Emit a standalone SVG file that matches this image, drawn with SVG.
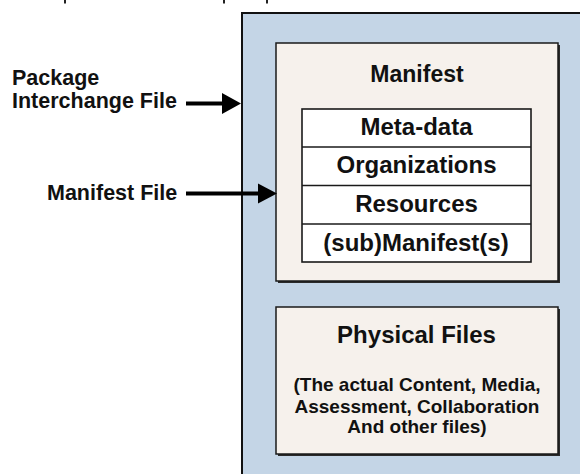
<svg xmlns="http://www.w3.org/2000/svg" width="580" height="474" viewBox="0 0 580 474">
  <defs>
    <style>
      .lbl { font-family: "Liberation Sans", Arial, sans-serif; font-weight: bold; fill: #111; }
      .mid { text-anchor: middle; }
      .panel { fill: #f6f1ec; stroke: #1a1a1a; stroke-width: 1.5; }
      .shade { fill: none; stroke: #2a2a2a; stroke-width: 2; }
      .cell { fill: #ffffff; stroke: #1a1a1a; stroke-width: 1.6; }
      .wire { stroke: #000; stroke-width: 4; fill: none; }
      .head { fill: #000; }
    </style>
  </defs>

  <rect width="580" height="474" fill="#ffffff"/>

  <!-- stray marks along the top edge -->
  <g id="top-marks" fill="#222">
    <rect x="64" y="0" width="2" height="3.5"/>
    <rect x="223" y="0" width="2" height="3.5"/>
    <rect x="266" y="0" width="2" height="3.5"/>
  </g>

  <!-- package interchange file container -->
  <g id="package">
    <rect x="242" y="13" width="350" height="475" fill="#c4d5e6" stroke="#111" stroke-width="2"/>
  </g>

  <!-- manifest panel -->
  <g id="manifest">
    <polyline class="shade" points="559,45 559,282 278,282"/>
    <rect class="panel" x="276" y="43" width="282" height="238"/>
    <text class="lbl mid" x="417" y="82" font-size="23">Manifest</text>
  </g>

  <g id="manifest-table">
    <rect class="cell" x="302" y="109" width="229" height="153"/>
    <line class="cell" x1="302" y1="147" x2="531" y2="147"/>
    <line class="cell" x1="302" y1="185.5" x2="531" y2="185.5"/>
    <line class="cell" x1="302" y1="224" x2="531" y2="224"/>
    <text class="lbl mid" x="416.5" y="135" font-size="24">Meta-data</text>
    <text class="lbl mid" x="416.5" y="173" font-size="24">Organizations</text>
    <text class="lbl mid" x="416.5" y="212" font-size="24">Resources</text>
    <text class="lbl mid" x="416" y="251" font-size="24">(sub)Manifest(s)</text>
  </g>

  <!-- physical files panel -->
  <g id="physical-files">
    <polyline class="shade" points="559,309 559,455 278,455"/>
    <rect class="panel" x="276" y="307" width="282" height="147"/>
    <text class="lbl mid" x="416.5" y="343" font-size="24">Physical Files</text>
    <text class="lbl mid" x="417" y="391" font-size="19">(The actual Content, Media,</text>
    <text class="lbl mid" x="417" y="413" font-size="19">Assessment, Collaboration</text>
    <text class="lbl mid" x="417" y="433" font-size="19">And other files)</text>
  </g>

  <!-- callout labels -->
  <g id="label-package">
    <text class="lbl" x="12" y="85" font-size="21.5">Package</text>
    <text class="lbl" x="12" y="108" font-size="21.5">Interchange File</text>
  </g>
  <g id="label-manifest-file">
    <text class="lbl" x="47" y="200" font-size="21.5">Manifest File</text>
  </g>

  <!-- pointer arrows -->
  <g id="connectors">
    <line class="wire" x1="186" y1="103.5" x2="224" y2="103.5"/>
    <polygon class="head" points="222,93 241,103.5 222,114"/>
    <line class="wire" x1="186" y1="193.5" x2="260" y2="193.5"/>
    <polygon class="head" points="258,183.5 277,193.5 258,203.5"/>
  </g>
</svg>
